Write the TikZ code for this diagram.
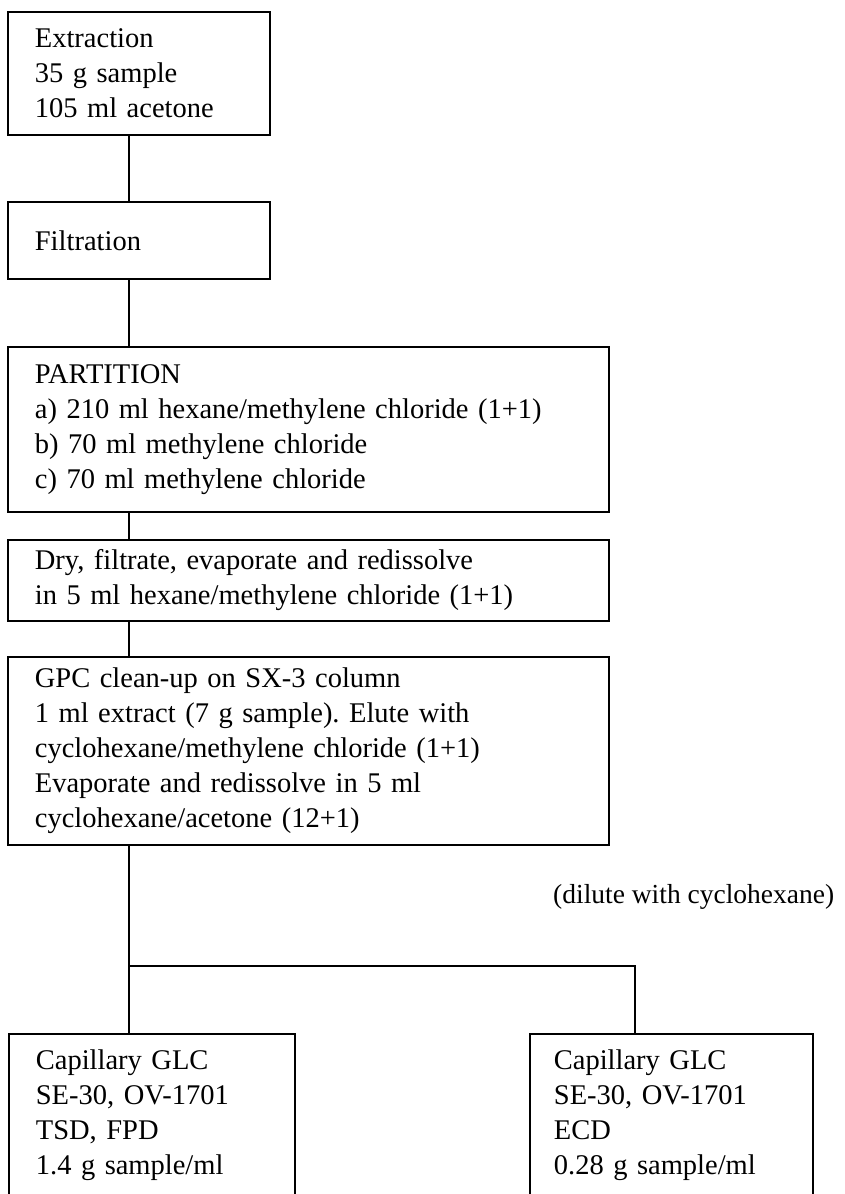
\documentclass[tikz,border=0pt]{standalone}
\usepackage{fontspec}
\setmainfont{Liberation Serif}
\frenchspacing
\begin{document}
\begin{tikzpicture}[x=1pt,y=-1pt,
  box/.style={draw, line width=1.8pt, anchor=north west, align=left,
    inner xsep=27pt, inner ysep=0pt, font=\fontsize{28.5}{35}\selectfont\frenchspacing},
  conn/.style={line width=1.3pt},
  note/.style={anchor=west, inner sep=0pt, font=\fontsize{27.5}{35}\selectfont}]
\useasboundingbox (0,0) rectangle (844,1194);
\clip (0,0) rectangle (844,1194);
\fill[white] (0,0) rectangle (844,1194);

\node[box, text width=208pt, minimum height=123pt] (ext) at (7,11)
  {Extraction\\35 g sample\\105 ml acetone};
\node[box, text width=208pt, minimum height=77pt] (filt) at (7,201)
  {Filtration};
\node[box, text width=547pt, minimum height=165pt] (part) at (7,346)
  {PARTITION\\a) 210 ml hexane/methylene chloride (1+1)\\b) 70 ml methylene chloride\\c) 70 ml methylene chloride};
\node[box, text width=547pt, minimum height=81pt] (dry) at (7,539)
  {Dry, filtrate, evaporate and redissolve\\in 5 ml hexane/methylene chloride (1+1)};
\node[box, text width=547pt, minimum height=188pt] (gpc) at (7,656)
  {GPC clean-up on SX-3 column\\1 ml extract (7 g sample). Elute with\\cyclohexane/methylene chloride (1+1)\\Evaporate and redissolve in 5 ml\\cyclohexane/acetone (12+1)};
\node[box, text width=232pt, minimum height=163pt] (left) at (8,1033)
  {Capillary GLC\\SE-30, OV-1701\\TSD, FPD\\1.4 g sample/ml};
\node[box, inner xsep=24pt, text width=235pt, minimum height=163pt] (right) at (529,1033)
  {Capillary GLC\\SE-30, OV-1701\\ECD\\0.28 g sample/ml};
\node[note] (dil) at (553,897) {(dilute with cyclohexane)};

\draw[conn] ([xshift=122pt]ext.south west) -- ([xshift=122pt]filt.north west);
\draw[conn] ([xshift=122pt]filt.south west) -- ([xshift=122pt]part.north west);
\draw[conn] ([xshift=122pt]part.south west) -- ([xshift=122pt]dry.north west);
\draw[conn] ([xshift=122pt]dry.south west) -- ([xshift=122pt]gpc.north west);
\coordinate (split) at (129,966);
\draw[conn] ([xshift=122pt]gpc.south west) -- ([xshift=121pt]left.north west);
\draw[conn] (split) -| ([xshift=106pt]right.north west);
\end{tikzpicture}
\end{document}
